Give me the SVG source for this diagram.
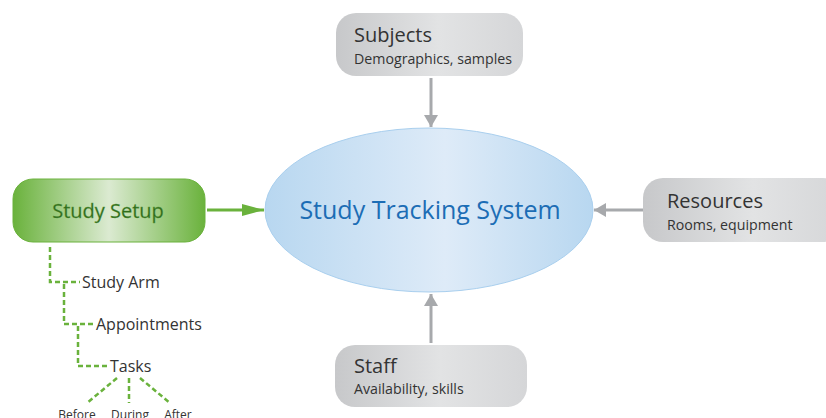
<svg xmlns="http://www.w3.org/2000/svg" width="826" height="418" viewBox="0 0 826 418">
<defs>
<linearGradient id="gGray" x1="0" y1="0" x2="1" y2="0">
<stop offset="0" stop-color="#c7c8ca"/>
<stop offset="0.55" stop-color="#e2e3e4"/>
<stop offset="1" stop-color="#d5d6d8"/>
</linearGradient>
<linearGradient id="gBlue" x1="0" y1="0" x2="1" y2="0">
<stop offset="0" stop-color="#b8d7f0"/>
<stop offset="0.55" stop-color="#deebf8"/>
<stop offset="1" stop-color="#b8d7f0"/>
</linearGradient>
<linearGradient id="gGreen" x1="0" y1="0" x2="1" y2="0">
<stop offset="0" stop-color="#6ab23c"/>
<stop offset="0.5" stop-color="#dbead1"/>
<stop offset="1" stop-color="#6ab23c"/>
</linearGradient>
<marker id="aGray" viewBox="0 0 12 20" refX="12" refY="10" markerWidth="12" markerHeight="20" markerUnits="userSpaceOnUse" orient="auto">
<path d="M0,3 L12,10 L0,17 Z" fill="#a7a9ac"/>
</marker>
<marker id="aGreen" viewBox="0 0 22 14" refX="22" refY="7" markerWidth="22" markerHeight="14" markerUnits="userSpaceOnUse" orient="auto">
<path d="M0,1 L22,7 L0,13 Z" fill="#6ab23c"/>
</marker>
</defs>
<style>
.box{fill:url(#gGray);}
.t{font-family:"Open Sans","Noto Sans",sans-serif;fill:#333333;}
.title{font-size:20px;}
.sub{font-size:14.2px;}
.gline{stroke:#a7a9ac;stroke-width:3;fill:none;}
.dash{stroke:#6ab23c;stroke-width:2.5;fill:none;stroke-dasharray:5 3;}
.small{font-size:16px;}
</style>
<g id="connectors">
<line class="gline" x1="431" y1="78" x2="431" y2="127" marker-end="url(#aGray)"/>
<line class="gline" x1="643" y1="210" x2="594" y2="210" marker-end="url(#aGray)"/>
<line class="gline" x1="431" y1="343" x2="431" y2="294" marker-end="url(#aGray)"/>
<line x1="207" y1="210" x2="264" y2="210" stroke="#6ab23c" stroke-width="3" marker-end="url(#aGreen)"/>
<polyline class="dash" points="50,247 50,282 80,282"/>
<polyline class="dash" points="64,284 64,324 93,324"/>
<polyline class="dash" points="78,326 78,366 108,366"/>
<line class="dash" x1="117" y1="378" x2="87" y2="403"/>
<line class="dash" x1="129" y1="378" x2="129" y2="403"/>
<line class="dash" x1="140" y1="378" x2="170" y2="403"/>
</g>
<g id="system">
<ellipse cx="429" cy="210" rx="164" ry="82" fill="url(#gBlue)" stroke="#a9cfee" stroke-width="1"/>
<text x="430" y="219" text-anchor="middle" font-family="'Open Sans','Noto Sans',sans-serif" font-size="25" fill="#1c6db5">Study Tracking System</text>
</g>
<g id="subjects">
<rect class="box" x="336" y="13" width="187" height="63" rx="20"/>
<text class="t title" x="354" y="42">Subjects</text>
<text class="t sub" x="354" y="64">Demographics, samples</text>
</g>
<g id="resources">
<rect class="box" x="643" y="178" width="200" height="64" rx="20"/>
<text class="t title" x="667" y="208">Resources</text>
<text class="t sub" x="667" y="230">Rooms, equipment</text>
</g>
<g id="staff">
<rect class="box" x="335" y="345" width="192" height="62" rx="20"/>
<text class="t title" x="354" y="373">Staff</text>
<text class="t sub" x="354" y="394">Availability, skills</text>
</g>
<g id="setup">
<rect x="13" y="179" width="192" height="63" rx="20" fill="url(#gGreen)" stroke="#6ab23c" stroke-width="1"/>
<text x="108" y="218" text-anchor="middle" font-family="'Open Sans','Noto Sans',sans-serif" font-size="20" fill="#2f6a1c" stroke="#5a9a3a" stroke-width="0.3">Study Setup</text>
</g>
<g id="tree">
<text class="t small" x="82" y="288">Study Arm</text>
<text class="t small" x="96" y="330">Appointments</text>
<text class="t small" x="110" y="372">Tasks</text>
<text class="t" font-size="12" x="77" y="419" text-anchor="middle">Before</text>
<text class="t" font-size="12" x="130" y="419" text-anchor="middle">During</text>
<text class="t" font-size="12" x="178" y="419" text-anchor="middle">After</text>
</g>
</svg>
